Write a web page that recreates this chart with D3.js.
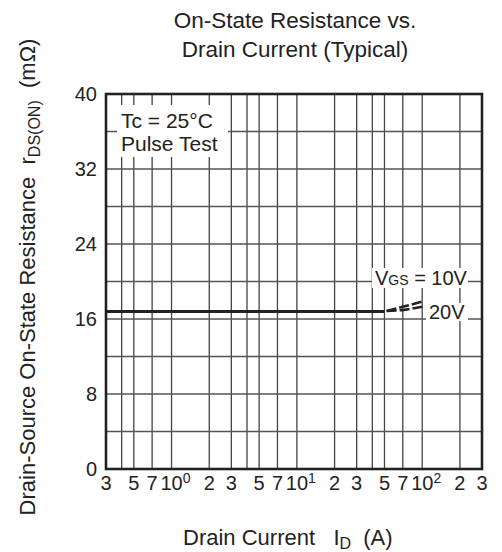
<!DOCTYPE html>
<html>
<head>
<meta charset="utf-8">
<script src="https://cdn.jsdelivr.net/npm/d3@7/dist/d3.min.js"></script>
<style>
  body { margin: 0; background: #fff; }
  svg text { font-family: "Liberation Sans", Arial, sans-serif; fill: #222; white-space: pre; }
</style>
</head>
<body>
<div id="chart"></div>
<script>
// data
var xTicks = [0.3, 0.5, 0.7, 1, 2, 3, 5, 7, 10, 20, 30, 50, 70, 100, 200, 300];
var xTickLabels = ["3", "5", "7", "10|0", "2", "3", "5", "7", "10|1", "2", "3", "5", "7", "10|2", "2", "3"];
var xGrid = [0.4, 0.5, 0.7, 1, 2, 3, 4, 5, 7, 10, 20, 30, 40, 50, 70, 100, 200];
var yTicks = [0, 8, 16, 24, 32, 40];
var yGrid = [4, 8, 12, 16, 20, 24, 28, 32, 36];

// both gate voltages overlap up to ~50 A
var idShared = [0.3, 1, 10, 50];
var rShared = [16.8, 16.8, 16.8, 16.8];
// dashed extension
var idTail = [52, 70, 100];
var r10V = [16.85, 17.3, 17.85];
var r20V = [16.85, 16.95, 17.3];

var margin = {top: 94, right: 20, bottom: 83, left: 106},
    W = 502, H = 552,
    width = W - margin.left - margin.right,
    height = H - margin.top - margin.bottom;

var svg = d3.select("#chart")
  .append("svg")
    .attr("width", W)
    .attr("height", H);

var g = svg.append("g")
    .attr("transform", "translate(" + margin.left + "," + margin.top + ")");

var x = d3.scaleLog().domain([0.3, 300]).range([0, width]);
var y = d3.scaleLinear().domain([0, 40]).range([height, 0]);

// grid
g.append("g").selectAll("line")
  .data(xGrid).enter().append("line")
    .attr("x1", function (d) { return x(d); })
    .attr("x2", function (d) { return x(d); })
    .attr("y1", 0).attr("y2", height)
    .style("stroke", "#444").style("stroke-width", 1.3);

g.append("g").selectAll("line")
  .data(yGrid).enter().append("line")
    .attr("x1", 0).attr("x2", width)
    .attr("y1", function (d) { return y(d); })
    .attr("y2", function (d) { return y(d); })
    .style("stroke", "#555").style("stroke-width", 1.3);

// curves
var line = d3.line()
    .x(function (d) { return x(d[0]); })
    .y(function (d) { return y(d[1]); });

g.append("path")
    .datum(d3.zip(idShared, rShared))
    .attr("d", line)
    .style("fill", "none").style("stroke", "#222").style("stroke-width", 3);

[r10V, r20V].forEach(function (r) {
  g.append("path")
      .datum(d3.zip(idTail, r))
      .attr("d", line)
      .style("fill", "none").style("stroke", "#222").style("stroke-width", 2.6)
      .style("stroke-dasharray", "10,3");
});

// frame
g.append("rect")
    .attr("width", width).attr("height", height)
    .style("fill", "none").style("stroke", "#222").style("stroke-width", 2.6);

// x tick labels (superscript decades)
var xl = g.append("g").selectAll("text")
  .data(d3.zip(xTicks, xTickLabels)).enter().append("text")
    .attr("y", height + 21)
    .style("font-size", "20px")
    .attr("text-anchor", "middle")
    .attr("x", function (d) { return x(d[0]); });
xl.each(function (d) {
  var parts = d[1].split("|");
  var t = d3.select(this);
  if (parts.length > 1) {
    t.attr("dx", 4);
    t.append("tspan").text(parts[0]);
    t.append("tspan").attr("dy", -7).style("font-size", "14px").text(parts[1]);
  } else {
    t.text(parts[0]);
  }
});

// y tick labels
g.append("g").selectAll("text")
  .data(yTicks).enter().append("text")
    .attr("x", -9)
    .attr("y", function (d) { return y(d); })
    .attr("dy", "0.35em")
    .attr("text-anchor", "end")
    .style("font-size", "20px")
    .text(function (d) { return d; });

// annotations
svg.append("rect").attr("x", 117).attr("y", 105).attr("width", 111).attr("height", 52).style("fill", "#fff");
svg.append("text").attr("x", 121).attr("y", 128).style("font-size", "21px").text("Tc = 25°C");
svg.append("text").attr("x", 121).attr("y", 151).style("font-size", "21px").text("Pulse Test");

svg.append("rect").attr("x", 372).attr("y", 268).attr("width", 96).attr("height", 20).style("fill", "#fff");
var vgs = svg.append("text").attr("x", 375).attr("y", 285).style("font-size", "20px");
vgs.append("tspan").text("V");
vgs.append("tspan").style("font-size", "14px").text("GS");
vgs.append("tspan").text(" = 10V");

svg.append("rect").attr("x", 426).attr("y", 303).attr("width", 42).attr("height", 18).style("fill", "#fff");
svg.append("text").attr("x", 429).attr("y", 319).style("font-size", "20px").text("20V");

// title
svg.append("text").attr("x", 295).attr("y", 28).attr("text-anchor", "middle")
    .style("font-size", "22.5px").text("On-State Resistance vs.");
svg.append("text").attr("x", 295).attr("y", 57).attr("text-anchor", "middle")
    .style("font-size", "22.5px").text("Drain Current (Typical)");

// x axis label
var xt = svg.append("text").attr("x", 183).attr("y", 545)
    .style("font-size", "22px");
xt.append("tspan").text("Drain Current   I");
xt.append("tspan").attr("dy", 4).style("font-size", "16px").text("D");
xt.append("tspan").attr("dy", -4).text("  (A)");

// y axis label
var yt = svg.append("text")
    .attr("transform", "translate(35,277) rotate(-90)")
    .attr("text-anchor", "middle")
    .style("font-size", "22px");
yt.append("tspan").text("Drain-Source On-State Resistance  r");
yt.append("tspan").attr("dy", 5).style("font-size", "16px").text("DS(ON)");
yt.append("tspan").attr("dy", -5).text("  (mΩ)");
</script>
</body>
</html>
